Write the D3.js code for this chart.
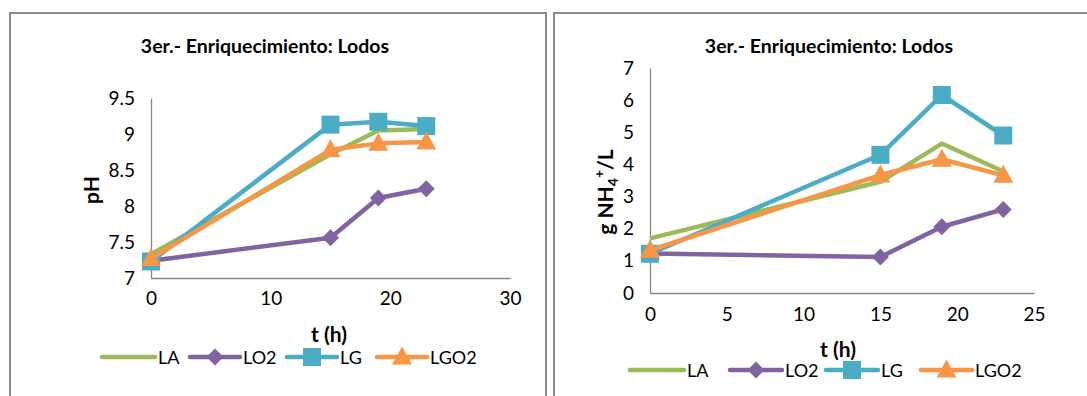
<!DOCTYPE html>
<html>
<head>
<meta charset="utf-8">
<script src="https://cdn.jsdelivr.net/npm/d3@7"></script>
<style>
  html, body { margin: 0; padding: 0; background: #fff; }
  svg { display: block; font-family: Lato, "Liberation Sans", sans-serif; }
</style>
</head>
<body>
<svg id="chart" width="1087" height="396"></svg>
<script>
// Sampling times (hours)
const times = [0, 15, 19, 23];
const seriesNames = ["LA", "LO2", "LG", "LGO2"];

// pH readings per series
const phLA   = [7.33, 8.72, 9.05, 9.07];
const phLO2  = [7.24, 7.56, 8.11, 8.24];
const phLG   = [7.23, 9.13, 9.17, 9.11];
const phLGO2 = [7.27, 8.78, 8.87, 8.89];

// Ammonium concentration (g NH4+/L) per series
const nhLA   = [1.70, 3.46, 4.65, 3.78];
const nhLO2  = [1.23, 1.12, 2.06, 2.60];
const nhLG   = [1.22, 4.30, 6.16, 4.90];
const nhLGO2 = [1.33, 3.67, 4.16, 3.66];

// Axis ticks
const phTicksY = [7, 7.5, 8, 8.5, 9, 9.5];
const phTicksX = [0, 10, 20, 30];
const nhTicksY = [0, 1, 2, 3, 4, 5, 6, 7];
const nhTicksX = [0, 5, 10, 15, 20, 25];

const titleText = "3er.- Enriquecimiento: Lodos";

const colors = { LA: "#9BBB59", LO2: "#8064A2", LG: "#4BACC6", LGO2: "#F79646" };
const markers = { LA: null, LO2: "diamond", LG: "square", LGO2: "triangle" };

const FONT = "Lato, 'Liberation Sans', sans-serif";
const svg = d3.select("#chart");

function markerPath(type) {
  if (type === "diamond") return "M0,-8.5L8.5,0L0,8.5L-8.5,0Z";
  if (type === "square") return "M-9,-9H9V9H-9Z";
  if (type === "triangle") return "M0,-10.5L10,7.5L-10,7.5Z";
  return null;
}

function drawPanel(cfg) {
  const g = svg.append("g");

  // panel frame
  g.append("rect")
    .attr("x", cfg.frame[0]).attr("y", cfg.frame[1])
    .attr("width", cfg.frame[2]).attr("height", cfg.frame[3])
    .attr("fill", "none").attr("stroke", "#8a8a8a").attr("stroke-width", 2);

  const x = d3.scaleLinear().domain(cfg.xDomain).range(cfg.xRange);
  const y = d3.scaleLinear().domain(cfg.yDomain).range(cfg.yRange);

  // axes
  const xAxis = g.append("g")
    .attr("transform", `translate(0,${cfg.yRange[0]})`)
    .call(d3.axisBottom(x).tickValues(cfg.xTicks).tickSize(0).tickPadding(cfg.xPad).tickFormat(d3.format("")));
  const yAxis = g.append("g")
    .attr("transform", `translate(${cfg.xRange[0]},0)`)
    .call(d3.axisLeft(y).tickValues(cfg.yTicks).tickSize(0).tickPadding(cfg.yPad).tickFormat(d3.format("")));
  [xAxis, yAxis].forEach(a => {
    a.select(".domain").attr("stroke", "#868686").attr("stroke-width", 1.3);
    a.selectAll("text").attr("font-size", 19).attr("fill", "#000").attr("font-family", FONT);
  });

  // title
  g.append("text")
    .attr("x", cfg.titleX).attr("y", 53)
    .attr("text-anchor", "middle").attr("font-weight", "bold").attr("font-size", 19.5)
    .text(titleText);

  // x axis title
  g.append("text")
    .attr("x", cfg.xTitle[0]).attr("y", cfg.xTitle[1])
    .attr("text-anchor", "middle").attr("font-weight", "bold").attr("font-size", 21)
    .text("t (h)");

  // y axis title
  const yt = g.append("text")
    .attr("transform", `translate(${cfg.yTitle[0]},${cfg.yTitle[1]}) rotate(-90)`)
    .attr("text-anchor", "middle").attr("font-weight", "bold").attr("font-size", 21);
  cfg.yTitleBuild(yt);

  // series
  const line = d3.line().x((d, i) => x(times[i])).y(d => y(d));
  cfg.series.forEach((vals, si) => {
    const name = seriesNames[si];
    g.append("path").datum(vals)
      .attr("d", line).attr("fill", "none")
      .attr("stroke", colors[name]).attr("stroke-width", 4.5)
      .attr("stroke-linejoin", "round").attr("stroke-linecap", "butt");
    const m = markerPath(markers[name]);
    if (m) {
      g.selectAll(null).data(vals).enter().append("path")
        .attr("d", m)
        .attr("transform", (d, i) => `translate(${x(times[i])},${y(d)})`)
        .attr("fill", colors[name]);
    }
  });

  // legend
  const lg = g.append("g");
  cfg.legend.forEach((pos, si) => {
    const name = seriesNames[si];
    lg.append("line")
      .attr("x1", pos[0]).attr("x2", pos[1]).attr("y1", cfg.legendY).attr("y2", cfg.legendY)
      .attr("stroke", colors[name]).attr("stroke-width", 4.5).attr("stroke-linecap", "round");
    const m = markerPath(markers[name]);
    if (m) {
      lg.append("path").attr("d", m)
        .attr("transform", `translate(${(pos[0] + pos[1]) / 2},${cfg.legendY})`)
        .attr("fill", colors[name]);
    }
    lg.append("text")
      .attr("x", pos[1] + 3).attr("y", cfg.legendY + 6.5)
      .attr("font-size", 18).text(name);
  });
}

drawPanel({
  frame: [10, 13, 536, 400],
  xDomain: [0, 30], xRange: [151, 510],
  yDomain: [7, 9.5], yRange: [278, 98],
  xTicks: phTicksX, yTicks: phTicksY, xPad: 14, yPad: 16,
  titleX: 265,
  xTitle: [329, 342],
  yTitle: [99, 190],
  yTitleBuild: t => t.text("pH"),
  series: [phLA, phLO2, phLG, phLGO2],
  legend: [[102, 155], [190, 240], [287, 337], [377, 427]],
  legendY: 357
});

drawPanel({
  frame: [554, 13, 540, 400],
  xDomain: [0, 25], xRange: [650, 1034],
  yDomain: [0, 7], yRange: [293, 68],
  xTicks: nhTicksX, yTicks: nhTicksY, xPad: 15, yPad: 16,
  titleX: 829,
  xTitle: [838, 357],
  yTitle: [613, 192],
  yTitleBuild: t => {
    t.append("tspan").text("g NH");
    t.append("tspan").attr("font-size", 14).attr("dy", 5).text("4");
    t.append("tspan").attr("font-size", 14).attr("dy", -14).text("+");
    t.append("tspan").attr("dy", 9).text("/L");
  },
  series: [nhLA, nhLO2, nhLG, nhLGO2],
  legend: [[630, 684], [730, 782], [826, 878], [921, 972]],
  legendY: 370
});
</script>
</body>
</html>
